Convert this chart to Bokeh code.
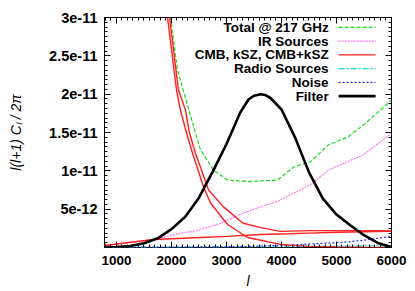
import numpy as np
from bokeh.plotting import figure
from bokeh.models import (Range1d, LinearAxis, SingleIntervalTicker,
                          CustomJSTickFormatter, ColumnDataSource)
from bokeh.core.properties import value
from bokeh.embed import file_html
from bokeh.resources import INLINE

SCALE = 1e-12  # values below are in units of 1e-12

# ---- data ----
total_l = [1850, 1983, 2110, 2437, 2528, 2765, 3019, 3383, 3929, 4220, 4529, 4856, 5202, 5493, 6000]
total_v = [37.0, 30.0, 23.1, 14.9, 12.7, 10.1, 8.8, 8.6, 8.8, 10.5, 11.2, 13.4, 14.4, 16.0, 19.2]

ir_l = [782, 1673, 2219, 2401, 2838, 3310, 3620, 3929, 4529, 4856, 5202, 5493, 6000]
ir_v = [0.25, 1.04, 1.95, 2.1, 3.0, 4.5, 5.3, 6.0, 8.2, 10.1, 11.2, 12.1, 14.9]

cmb_l = [1800, 1928, 2092, 2164, 2274, 2383, 2583, 2710, 3019, 3383, 3983, 4500, 5000, 5500, 6000]
cmb_v = [38.0, 30.0, 20.5, 17.9, 14.9, 12.3, 7.9, 5.8, 3.0, 1.3, 0.4, 0.15, 0.07, 0.04, 0.02]

ksz_l = [782, 1673, 2528, 3020, 3620, 4150, 4500, 5000, 5500, 6000]
ksz_v = [0.26, 1.04, 1.3, 1.45, 1.7, 1.8, 1.88, 1.98, 2.06, 2.12]

cmbksz_l = [1830, 1964, 2128, 2255, 2328, 2437, 2674, 2947, 3292, 3620, 3983, 4529, 5202, 6000]
cmbksz_v = [38.0, 30.0, 20.5, 17.9, 14.9, 12.3, 7.5, 5.3, 3.2, 2.6, 2.1, 2.2, 2.2, 2.15]

radio_l = [782, 2000, 3000, 4000, 5000, 6000]
radio_v = [0.01, 0.03, 0.06, 0.1, 0.17, 0.25]

noise_l = [782, 2000, 3000, 3400, 4150, 4500, 5070, 5500, 6000]
noise_v = [0.02, 0.05, 0.1, 0.15, 0.3, 0.45, 0.65, 0.95, 1.45]

filter_l = [782, 1000, 1250, 1500, 1750, 2000, 2250, 2500, 2750, 3000, 3250, 3400, 3500,
            3620, 3700, 3800, 4000, 4250, 4500, 4750, 5000, 5250, 5500, 5750, 6000]
filter_v = [0.0, 0.05, 0.2, 0.55, 1.2, 2.4, 4.0, 6.5, 9.9, 13.5, 17.6, 19.3, 19.8,
            20.0, 19.9, 19.5, 18.0, 14.3, 9.8, 6.4, 4.3, 2.9, 1.6, 0.6, 0.05]

legend_labels = ["Total @ 217 GHz", "IR Sources", "CMB, kSZ, CMB+kSZ",
                 "Radio Sources", "Noise", "Filter"]

# ---- styles ----
GREEN = "#18dc18"
PINK = "#ff70ff"
RED = "#ff1f1f"
CYAN = "#00dcdc"
BLUE = "#2828ff"
BLACK = "#000000"
FONT = "Liberation Sans"

p = figure(width=415, height=291, output_backend="svg", toolbar_location=None,
           x_range=Range1d(782, 6000), y_range=Range1d(0, 3e-11),
           min_border_left=104, min_border_right=24, min_border_top=17, min_border_bottom=43)
p.background_fill_color = "white"
p.border_fill_color = "white"
p.outline_line_color = "black"
p.outline_line_width = 1
p.xgrid.visible = False
p.ygrid.visible = False

def sc(v):
    return np.array(v) * SCALE

styles = [
    (total_l, total_v, GREEN, 1.2, "4 2"),
    (ir_l, ir_v, PINK, 1.2, "2 1"),
    (radio_l, radio_v, CYAN, 1.2, "6 2 2 2"),
    (noise_l, noise_v, BLUE, 1.2, "2 2"),
    (ksz_l, ksz_v, RED, 1.4, "solid"),
    (cmb_l, cmb_v, RED, 1.4, "solid"),
    (cmbksz_l, cmbksz_v, RED, 1.4, "solid"),
    (filter_l, filter_v, BLACK, 2.6, "solid"),
]
for xs, ys, col, w, dash in styles:
    p.line(xs, sc(ys), line_color=col, line_width=w, line_dash=dash)

# ---- axes ----
yfmt = CustomJSTickFormatter(code="""
    if (Math.abs(tick) < 1e-14) { return ""; }
    return Number(tick.toPrecision(6)).toExponential();
""")

for ax in p.xaxis:
    ax.ticker = SingleIntervalTicker(interval=1000, num_minor_ticks=10)
for ax in p.yaxis:
    ax.ticker = SingleIntervalTicker(interval=5e-12, num_minor_ticks=8)
    ax.formatter = yfmt

def style_axis(ax, labels=True, size="13px"):
    ax.axis_line_color = None
    ax.major_tick_in = 6
    ax.major_tick_out = 0
    ax.minor_tick_in = 3
    ax.minor_tick_out = 0
    ax.major_tick_line_color = "black"
    ax.minor_tick_line_color = "black"
    ax.major_label_text_font = FONT
    ax.major_label_text_font_style = "bold"
    ax.major_label_text_font_size = size
    ax.major_label_text_color = "black"
    if not labels:
        ax.major_label_text_font_size = "0px"
        ax.major_label_standoff = 0

style_axis(p.xaxis[0], size="13.5px")
style_axis(p.yaxis[0], size="14.5px")
p.xaxis[0].major_label_standoff = 8
p.yaxis[0].major_label_standoff = 7

p.xaxis.axis_label = "l"
p.xaxis.axis_label_text_font = FONT
p.xaxis.axis_label_text_font_style = "italic"
p.xaxis.axis_label_text_font_size = "14px"
p.xaxis.axis_label_text_color = "black"
p.xaxis.axis_label_standoff = 5

p.yaxis.axis_label = "l(l+1) C\u2097 / 2\u03c0"
p.yaxis.axis_label_text_font = FONT
p.yaxis.axis_label_text_font_style = "italic"
p.yaxis.axis_label_text_font_size = "14px"
p.yaxis.axis_label_text_color = "black"
p.yaxis.axis_label_standoff = 22

top_ax = LinearAxis(ticker=SingleIntervalTicker(interval=1000, num_minor_ticks=10))
style_axis(top_ax, labels=False)
p.add_layout(top_ax, "above")
right_ax = LinearAxis(ticker=SingleIntervalTicker(interval=5e-12, num_minor_ticks=8))
style_axis(right_ax, labels=False)
p.add_layout(right_ax, "right")

# ---- legend (gnuplot style: text then sample) ----
LEG_TEXT_X = 4857
LEG_S0, LEG_S1 = 5038, 5711
LEG_Y0, LEG_DY = 28.7, 1.79
leg_y = [(LEG_Y0 - i * LEG_DY) * SCALE for i in range(len(legend_labels))]
src = ColumnDataSource(dict(x=[LEG_TEXT_X] * len(legend_labels), y=leg_y, t=legend_labels))
p.text(x="x", y="y", text="t", source=src, text_align="right", text_baseline="middle",
       text_font=value(FONT), text_font_style="bold", text_font_size="13.5px",
       text_color="black")
leg_styles = [(GREEN, 1.2, "4 2"), (PINK, 1.2, "2 1"), (RED, 1.4, "solid"),
              (CYAN, 1.2, "6 2 2 2"), (BLUE, 1.2, "2 2"), (BLACK, 2.6, "solid")]
for yy, (col, w, dash) in zip(leg_y, leg_styles):
    p.line([LEG_S0, LEG_S1], [yy, yy], line_color=col, line_width=w, line_dash=dash)

open("out.html", "w").write(file_html(p, INLINE))
